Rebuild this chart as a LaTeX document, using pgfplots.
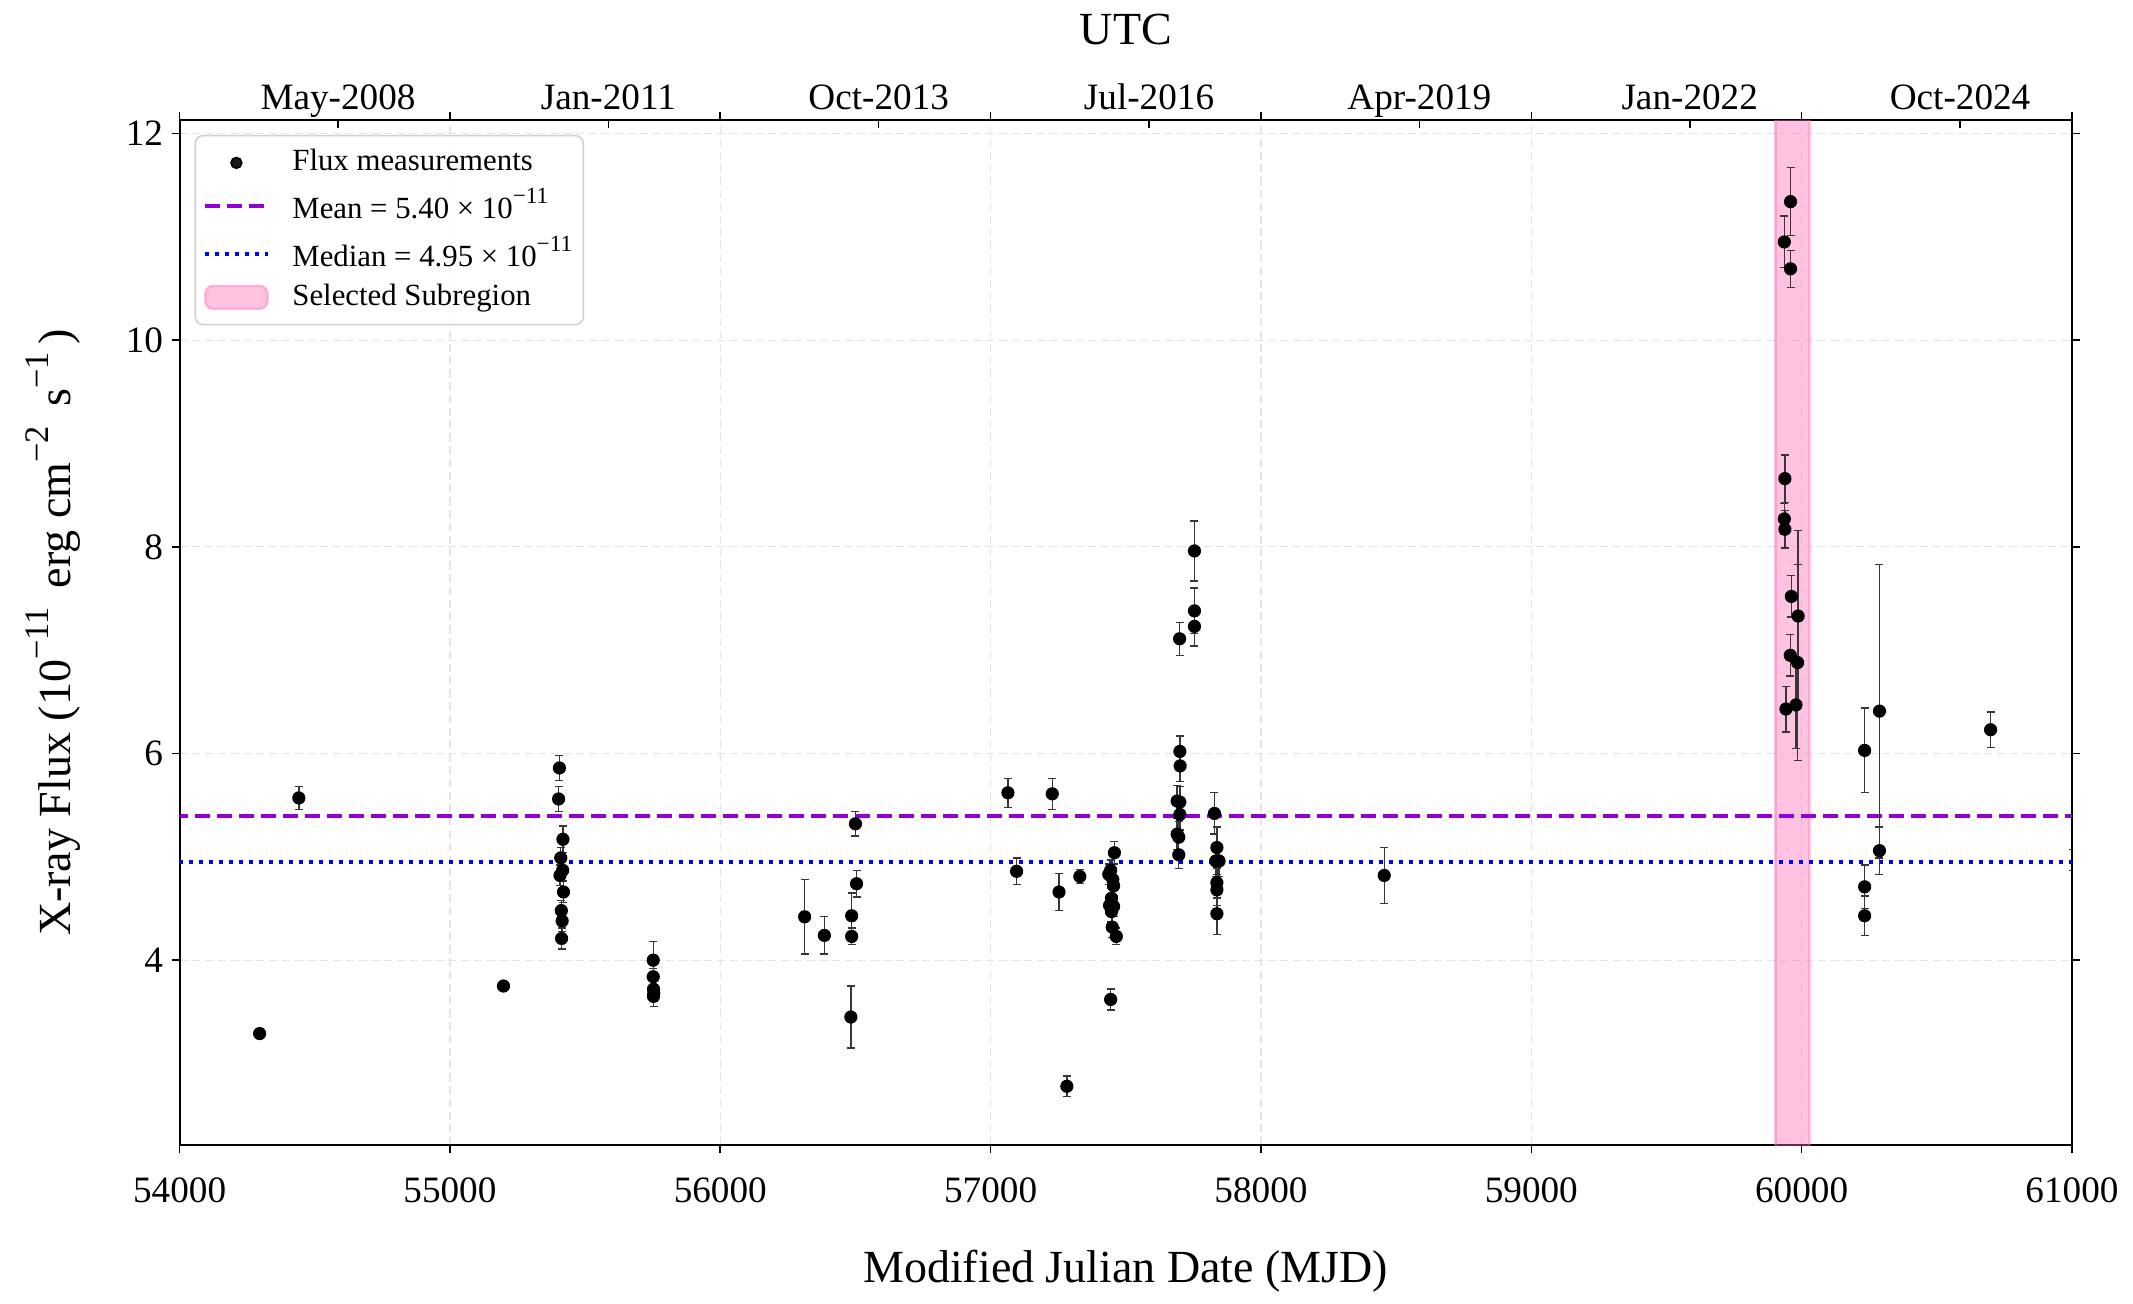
\documentclass[border=0pt]{standalone}
\usepackage{fontspec}
\setmainfont{Liberation Serif}
\usepackage{pgfplots}
\usepackage{pgfplotstable}
\pgfplotsset{compat=1.18}

\definecolor{meancol}{RGB}{148,0,211}
\definecolor{errcol}{RGB}{55,55,55}
\definecolor{gridcol}{RGB}{228,228,228}
\definecolor{hotpink}{RGB}{255,105,180}
\newcommand{\sups}[1]{\raisebox{1.05ex}{\fontsize{8.6}{9}\selectfont #1}}
\newcommand{\lsups}[1]{\raisebox{1.05ex}{\fontsize{5.8}{6}\selectfont #1}}

\pgfplotstableread{
x y e
54296 3.29 0.05
54441 5.57 0.11
55198 3.75 0.04
55402 5.56 0.12
55405 5.86 0.12
55407 4.82 0.10
55410 4.99 0.10
55412 4.48 0.10
55413 4.21 0.10
55415 4.38 0.10
55417 4.87 0.10
55418 5.17 0.13
55420 4.66 0.10
55752 4.00 0.18
55752 3.84 0.08
55753 3.72 0.08
55754 3.68 0.08
55753 3.65 0.10
56312 4.42 0.36
56385 4.24 0.18
56483 3.45 0.30
56486 4.43 0.22
56486 4.23 0.08
56500 5.32 0.12
56504 4.74 0.13
57064 5.62 0.14
57096 4.86 0.13
57228 5.61 0.15
57253 4.66 0.18
57282 2.78 0.10
57330 4.81 0.07
57437 4.83 0.10
57440 4.53 0.10
57444 4.87 0.10
57444 3.62 0.10
57447 4.60 0.10
57447 4.47 0.10
57450 4.32 0.10
57452 4.78 0.10
57455 4.72 0.10
57455 4.52 0.10
57458 5.04 0.11
57465 4.23 0.08
57690 5.54 0.15
57690 5.22 0.15
57696 5.02 0.13
57696 5.19 0.15
57699 7.11 0.16
57700 6.02 0.15
57700 5.53 0.15
57700 5.41 0.15
57701 5.88 0.15
57754 7.96 0.29
57754 7.38 0.22
57754 7.23 0.19
57828 5.42 0.20
57837 5.09 0.20
57837 4.75 0.15
57837 4.68 0.15
57837 4.45 0.20
57833 4.96 0.15
57845 4.96 0.15
58456 4.82 0.27
59959 11.34 0.33
59936 10.95 0.25
59959 10.69 0.18
59938 8.66 0.23
59936 8.27 0.15
59938 8.17 0.18
59962 7.52 0.20
59987 7.33 0.83
59958 6.95 0.20
59985 6.88 0.95
59942 6.43 0.22
59979 6.47 0.42
60233 6.03 0.41
60288 6.41 1.42
60288 5.06 0.23
60233 4.71 0.21
60233 4.43 0.19
60699 6.23 0.17
61005 4.97 0.10
}\fluxdata

\begin{document}
\begin{tikzpicture}
\useasboundingbox (0,0) rectangle (533.25pt,326pt);
\begin{axis}[
  at={(44.9pt,39.7pt)}, anchor=south west,
  width=473.1pt, height=256.3pt, scale only axis,
  xmin=54000, xmax=61000, ymin=2.21, ymax=12.13,
  xtick={54000,55000,...,61000}, ytick={4,6,8,10,12},
  scaled ticks=false,
  xtick pos=both, ytick pos=both, tick align=outside,
  xticklabel pos=bottom,
  major tick length=2pt,
  tick style={black, line width=0.4pt},
  /pgf/number format/1000 sep={},
  /pgf/number format/assume math mode=true,
  tick label style={font=\fontsize{9.3}{11}\selectfont},
  xticklabel style={anchor=base, yshift=-12.4pt},
  yticklabel style={xshift=1.4pt},
  xmajorgrids, ymajorgrids,
  grid style={gridcol, line width=0.3pt, dash pattern=on 2pt off 1.2pt},
  axis line style={black, line width=0.45pt},
  every axis x label/.style={at={(axis description cs:0.5,-0.1344)}, anchor=base, font=\fontsize{11.5}{13}\selectfont},
  every axis y label/.style={at={(axis description cs:-0.0575,0.5)}, rotate=90, anchor=base, font=\fontsize{11.5}{13}\selectfont},
  xlabel={Modified Julian Date (MJD)},
  ylabel={X-ray Flux (10\sups{−11}\, erg cm\sups{−2}\, s\sups{−1}\,)},
  legend style={at={(axis description cs:0,1)}, anchor=north west, xshift=3.7pt, yshift=-3.7pt,
    draw=black!18, line width=0.4pt, rounded corners=2pt, fill=white, fill opacity=0.9, text opacity=1,
    font=\fontsize{7.7}{9}\selectfont, row sep=1.3pt, inner xsep=2pt, inner ysep=2.6pt,
    nodes={inner sep=0.8pt}},
  legend cell align=left,
]
% selected subregion band
\addplot[fill=hotpink, fill opacity=0.4, draw=hotpink, draw opacity=0.4, line width=0.6pt, forget plot]
  coordinates {(59903,0) (59903,14) (60029,14) (60029,0)} -- cycle;
% mean and median
\addplot[meancol, line width=1pt, dash pattern=on 3.8pt off 1.7pt, forget plot]
  coordinates {(53000,5.40) (62000,5.40)};
\addplot[blue, line width=1pt, dash pattern=on 1pt off 1.5pt, forget plot]
  coordinates {(53000,4.95) (62000,4.95)};
% flux points
\addplot[only marks, mark=*, mark size=1.45pt, black, forget plot,
  error bars/.cd, y dir=both, y explicit,
  error bar style={errcol, line width=0.35pt},
  error mark options={rotate=90, errcol, mark size=1pt, line width=0.35pt}]
  table[x=x, y=y, y error=e] {\fluxdata};
% legend
\addlegendimage{legend image code/.code={\path (0pt,0pt) (20.8pt,0pt); \fill[black] (7.8pt,0pt) circle (1.35pt);}}
\addlegendentry{Flux measurements}
\addlegendimage{legend image code/.code={\path (0pt,0pt) (20.8pt,0pt); \draw[meancol, line width=1pt, dash pattern=on 3.8pt off 1.7pt] (0pt,0pt) -- (15.6pt,0pt);}}
\addlegendentry{Mean = 5.40 × 10\lsups{−11}}
\addlegendimage{legend image code/.code={\path (0pt,0pt) (20.8pt,0pt); \draw[blue, line width=1pt, dash pattern=on 1pt off 1.5pt] (0pt,0pt) -- (15.6pt,0pt);}}
\addlegendentry{Median = 4.95 × 10\lsups{−11}}
\addlegendimage{legend image code/.code={\path (0pt,0pt) (20.8pt,0pt); \draw[fill=hotpink, fill opacity=0.4, draw=hotpink, draw opacity=0.4, line width=0.6pt] (0pt,-2.9pt) rectangle (15.6pt,2.9pt);}}
\addlegendentry{Selected Subregion}
\end{axis}
\begin{axis}[
  at={(44.9pt,39.7pt)}, anchor=south west,
  width=473.1pt, height=256.3pt, scale only axis,
  xmin=54000, xmax=61000, ymin=0, ymax=1,
  scaled ticks=false,
  axis x line*=top, axis y line=none,
  axis line style={draw=none},
  xtick={54586,55586,56586,57586,58586,59586,60586},
  xticklabels={May-2008,Jan-2011,Oct-2013,Jul-2016,Apr-2019,Jan-2022,Oct-2024},
  tick align=inside, major tick length=2pt,
  tick style={black, line width=0.4pt},
  xticklabel style={font=\fontsize{9.3}{11}\selectfont, anchor=base, yshift=2.6pt},
  every axis x label/.style={at={(axis description cs:0.5,1.0741)}, anchor=base, font=\fontsize{11.5}{13}\selectfont},
  xlabel={UTC},
]
\end{axis}
\end{tikzpicture}
\end{document}
